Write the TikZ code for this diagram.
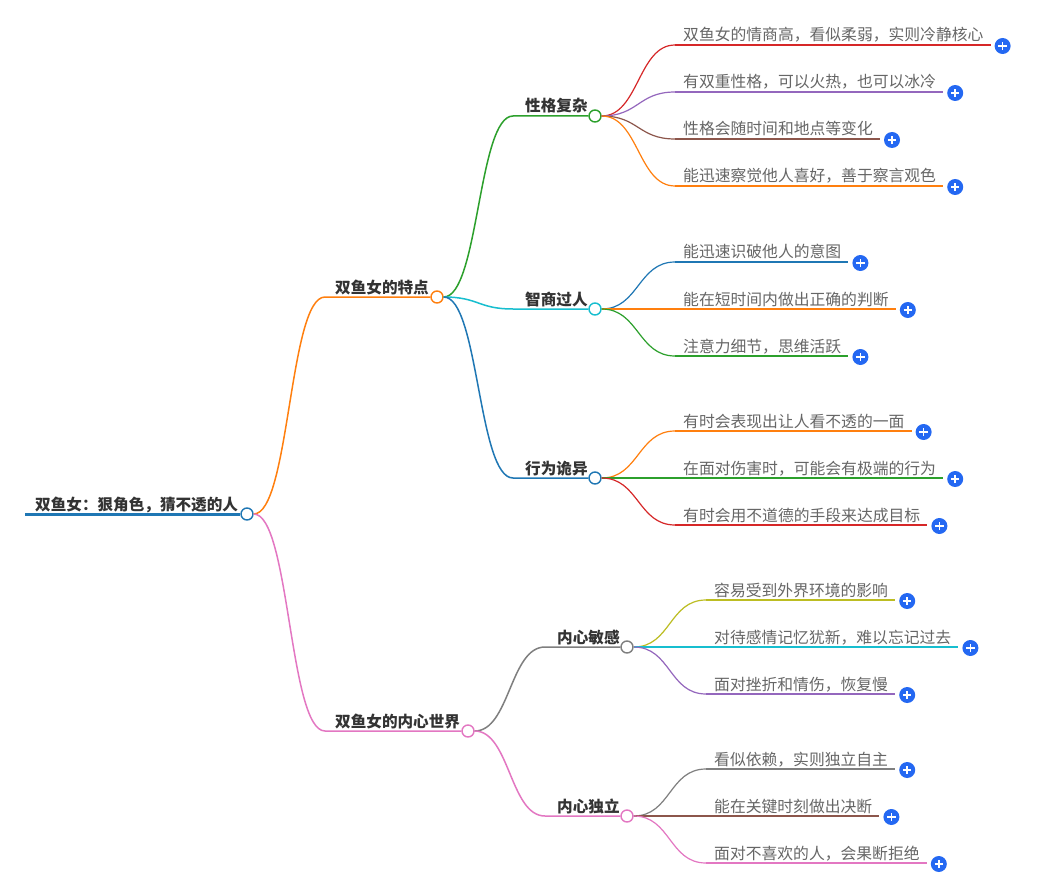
\documentclass[tikz,border=0pt]{standalone}
\usepackage{fontspec}
\setmainfont{Noto Sans CJK SC}
\definecolor{cblue}{HTML}{1F77B4}
\definecolor{corange}{HTML}{FF7F0E}
\definecolor{cgreen}{HTML}{2CA02C}
\definecolor{cred}{HTML}{D62728}
\definecolor{cpurple}{HTML}{9467BD}
\definecolor{cbrown}{HTML}{8C564B}
\definecolor{cpink}{HTML}{E377C2}
\definecolor{cgray}{HTML}{7F7F7F}
\definecolor{colive}{HTML}{BCBD22}
\definecolor{ccyan}{HTML}{17BECF}
\definecolor{plusblue}{HTML}{2468F2}
\definecolor{darktext}{HTML}{333333}
\definecolor{leaftextc}{HTML}{666666}
\tikzset{
  every node/.style={font=\fontsize{15.8}{18}\selectfont},
  hub/.style={circle,draw,fill=white,line width=1.4pt,minimum size=12pt,inner sep=0pt},
  maintext/.style={text=darktext,font=\fontsize{15.6}{18}\selectfont\bfseries,inner sep=0pt,anchor=base west},
  leaftext/.style={text=leaftextc,inner sep=0pt},
  branchline/.style={line width=1.5pt},
  leafline/.style={line width=1.2pt},
  plus/.style={circle,fill=plusblue,minimum size=16pt,inner sep=0pt,
    path picture={\draw[white,line width=1.7pt]
      ([xshift=-4.2pt]path picture bounding box.center) -- ([xshift=4.2pt]path picture bounding box.center)
      ([yshift=-4.2pt]path picture bounding box.center) -- ([yshift=4.2pt]path picture bounding box.center);}}
}
\newcommand\mmleaf[6]{%
  \coordinate (#2s) at (#5,#4);
  \node[leaftext,anchor=base west] (#2t) at (#5+8,#4-4) {#6};
  \draw[leafline,#3] (#1.east) .. controls +(37,0) and +(-37,0) .. (#2s);
  \path (#2t.east |- #2s) ++(7,0) coordinate (#2e);
  \draw[leafline,#3] (#2s) -- (#2e);
  \node[plus] (#2p) at ([xshift=12pt,yshift=-1pt]#2e) {};
}
\begin{document}
\begin{tikzpicture}[x=1pt,y=-1pt]
\useasboundingbox[fill=white] (0,0) rectangle (1051,885);
% root
\coordinate (rs) at (25,514);
\node[hub,draw=cblue] (root) at (247,514) {};
\node[maintext] (roott) at (35,510) {双鱼女：狠角色，猜不透的人};
\draw[line width=3pt,cblue] (rs) -- (root.west);
% level 1
\node[hub,draw=corange] (n1) at (437,297) {};
\coordinate (n1s) at (325,297);
\node[maintext] (n1t) at (335,293) {双鱼女的特点};
\draw[branchline,corange] (root.east) .. controls +(36,0) and +(-36,0) .. (n1s) -- (n1.west);
\node[hub,draw=cpink] (n2) at (468,731) {};
\coordinate (n2s) at (325,731);
\node[maintext] (n2t) at (335,727) {双鱼女的内心世界};
\draw[branchline,cpink] (root.east) .. controls +(36,0) and +(-36,0) .. (n2s) -- (n2.west);
% level 2
\node[hub,draw=cgreen] (a) at (595,116) {};
\coordinate (as) at (513,116);
\node[maintext] (at) at (525,112) {性格复杂};
\draw[branchline,cgreen] (n1.east) .. controls +(35,0) and +(-35,0) .. (as) -- (a.west);
\node[hub,draw=ccyan] (b) at (595,309) {};
\coordinate (bs) at (513,309);
\node[maintext] (bt) at (525,305) {智商过人};
\draw[branchline,ccyan] (n1.east) .. controls +(35,0) and +(-35,0) .. (bs) -- (b.west);
\node[hub,draw=cblue] (c) at (595,478) {};
\coordinate (cs) at (513,478);
\node[maintext] (ct) at (525,474) {行为诡异};
\draw[branchline,cblue] (n1.east) .. controls +(35,0) and +(-35,0) .. (cs) -- (c.west);
\node[hub,draw=cgray] (d) at (627,647) {};
\coordinate (ds) at (545,647);
\node[maintext] (dt) at (557,643) {内心敏感};
\draw[branchline,cgray] (n2.east) .. controls +(35,0) and +(-35,0) .. (ds) -- (d.west);
\node[hub,draw=cpink] (e) at (627,816) {};
\coordinate (es) at (545,816);
\node[maintext] (et) at (557,812) {内心独立};
\draw[branchline,cpink] (n2.east) .. controls +(35,0) and +(-35,0) .. (es) -- (e.west);
% leaves
\mmleaf{a}{a1}{cred}{45}{675}{双鱼女的情商高，看似柔弱，实则冷静核心}
\mmleaf{a}{a2}{cpurple}{92}{675}{有双重性格，可以火热，也可以冰冷}
\mmleaf{a}{a3}{cbrown}{139}{675}{性格会随时间和地点等变化}
\mmleaf{a}{a4}{corange}{186}{675}{能迅速察觉他人喜好，善于察言观色}
\mmleaf{b}{b1}{cblue}{262}{675}{能迅速识破他人的意图}
\mmleaf{b}{b2}{corange}{309}{675}{能在短时间内做出正确的判断}
\mmleaf{b}{b3}{cgreen}{356}{675}{注意力细节，思维活跃}
\mmleaf{c}{c1}{corange}{431}{675}{有时会表现出让人看不透的一面}
\mmleaf{c}{c2}{cgreen}{478}{675}{在面对伤害时，可能会有极端的行为}
\mmleaf{c}{c3}{cred}{525}{675}{有时会用不道德的手段来达成目标}
\mmleaf{d}{d1}{colive}{600}{706}{容易受到外界环境的影响}
\mmleaf{d}{d2}{ccyan}{647}{706}{对待感情记忆犹新，难以忘记过去}
\mmleaf{d}{d3}{cpurple}{694}{706}{面对挫折和情伤，恢复慢}
\mmleaf{e}{e1}{cgray}{769}{706}{看似依赖，实则独立自主}
\mmleaf{e}{e2}{cbrown}{816}{706}{能在关键时刻做出决断}
\mmleaf{e}{e3}{cpink}{863}{706}{面对不喜欢的人，会果断拒绝}
\end{tikzpicture}
\end{document}
